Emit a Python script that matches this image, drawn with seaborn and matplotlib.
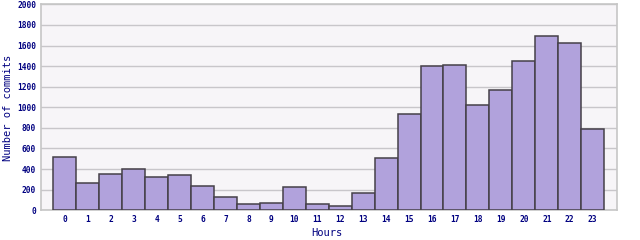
import matplotlib
matplotlib.use("Agg")
import matplotlib.pyplot as plt
import seaborn as sns
import pandas as pd

hours = [str(h) for h in range(24)]
commits = [514, 262, 350, 398, 320, 340, 233, 126, 58, 68, 223, 58,
           39, 165, 505, 932, 1398, 1408, 1019, 1165, 1447, 1689, 1621, 786]
y_ticks = [0, 200, 400, 600, 800, 1000, 1200, 1400, 1600, 1800, 2000]

df = pd.DataFrame({"Hours": hours, "Commits": commits})

sns.set_style("white")
plt.rcParams['font.family'] = ['DejaVu Sans Mono', 'DejaVu Sans']

fig = plt.figure(figsize=(6.4, 2.4), dpi=100)
ax = fig.add_axes([0.0641, 0.124, 0.8992, 0.858])
ax.set_facecolor("#f7f5f8")

sns.barplot(data=df, x="Hours", y="Commits", color="#b1a2dc", saturation=1,
            width=1.0, edgecolor="#454048", linewidth=1.1, ax=ax, zorder=3)

ax.set_ylim(0, 2000)
ax.set_xlim(-1.04, 24.04)
ax.set_yticks(y_ticks)
ax.yaxis.grid(True, color="#c8c6ca", linewidth=1.0, zorder=0)
ax.set_axisbelow(True)
ax.tick_params(axis="both", length=0, pad=3.5, labelsize=5.7, labelcolor="#000080")
for lab in ax.get_xticklabels() + ax.get_yticklabels():
    lab.set_fontweight("bold")

ax.set_xlabel("Hours", fontsize=7.5, color="#000080", va="center")
ax.set_ylabel("Number of commits", fontsize=7.5, color="#000080", va="center")
ax.xaxis.set_label_coords((327 - 41) / 575.5, -(233 - 210.3) / 206)
ax.yaxis.set_label_coords(-(41 - 7.5) / 575.5, (210.3 - 108) / 206)

for s in ax.spines.values():
    s.set_color("#c6c6c6")
    s.set_linewidth(1.2)

fig.savefig("out.png", dpi=100, facecolor="white")
